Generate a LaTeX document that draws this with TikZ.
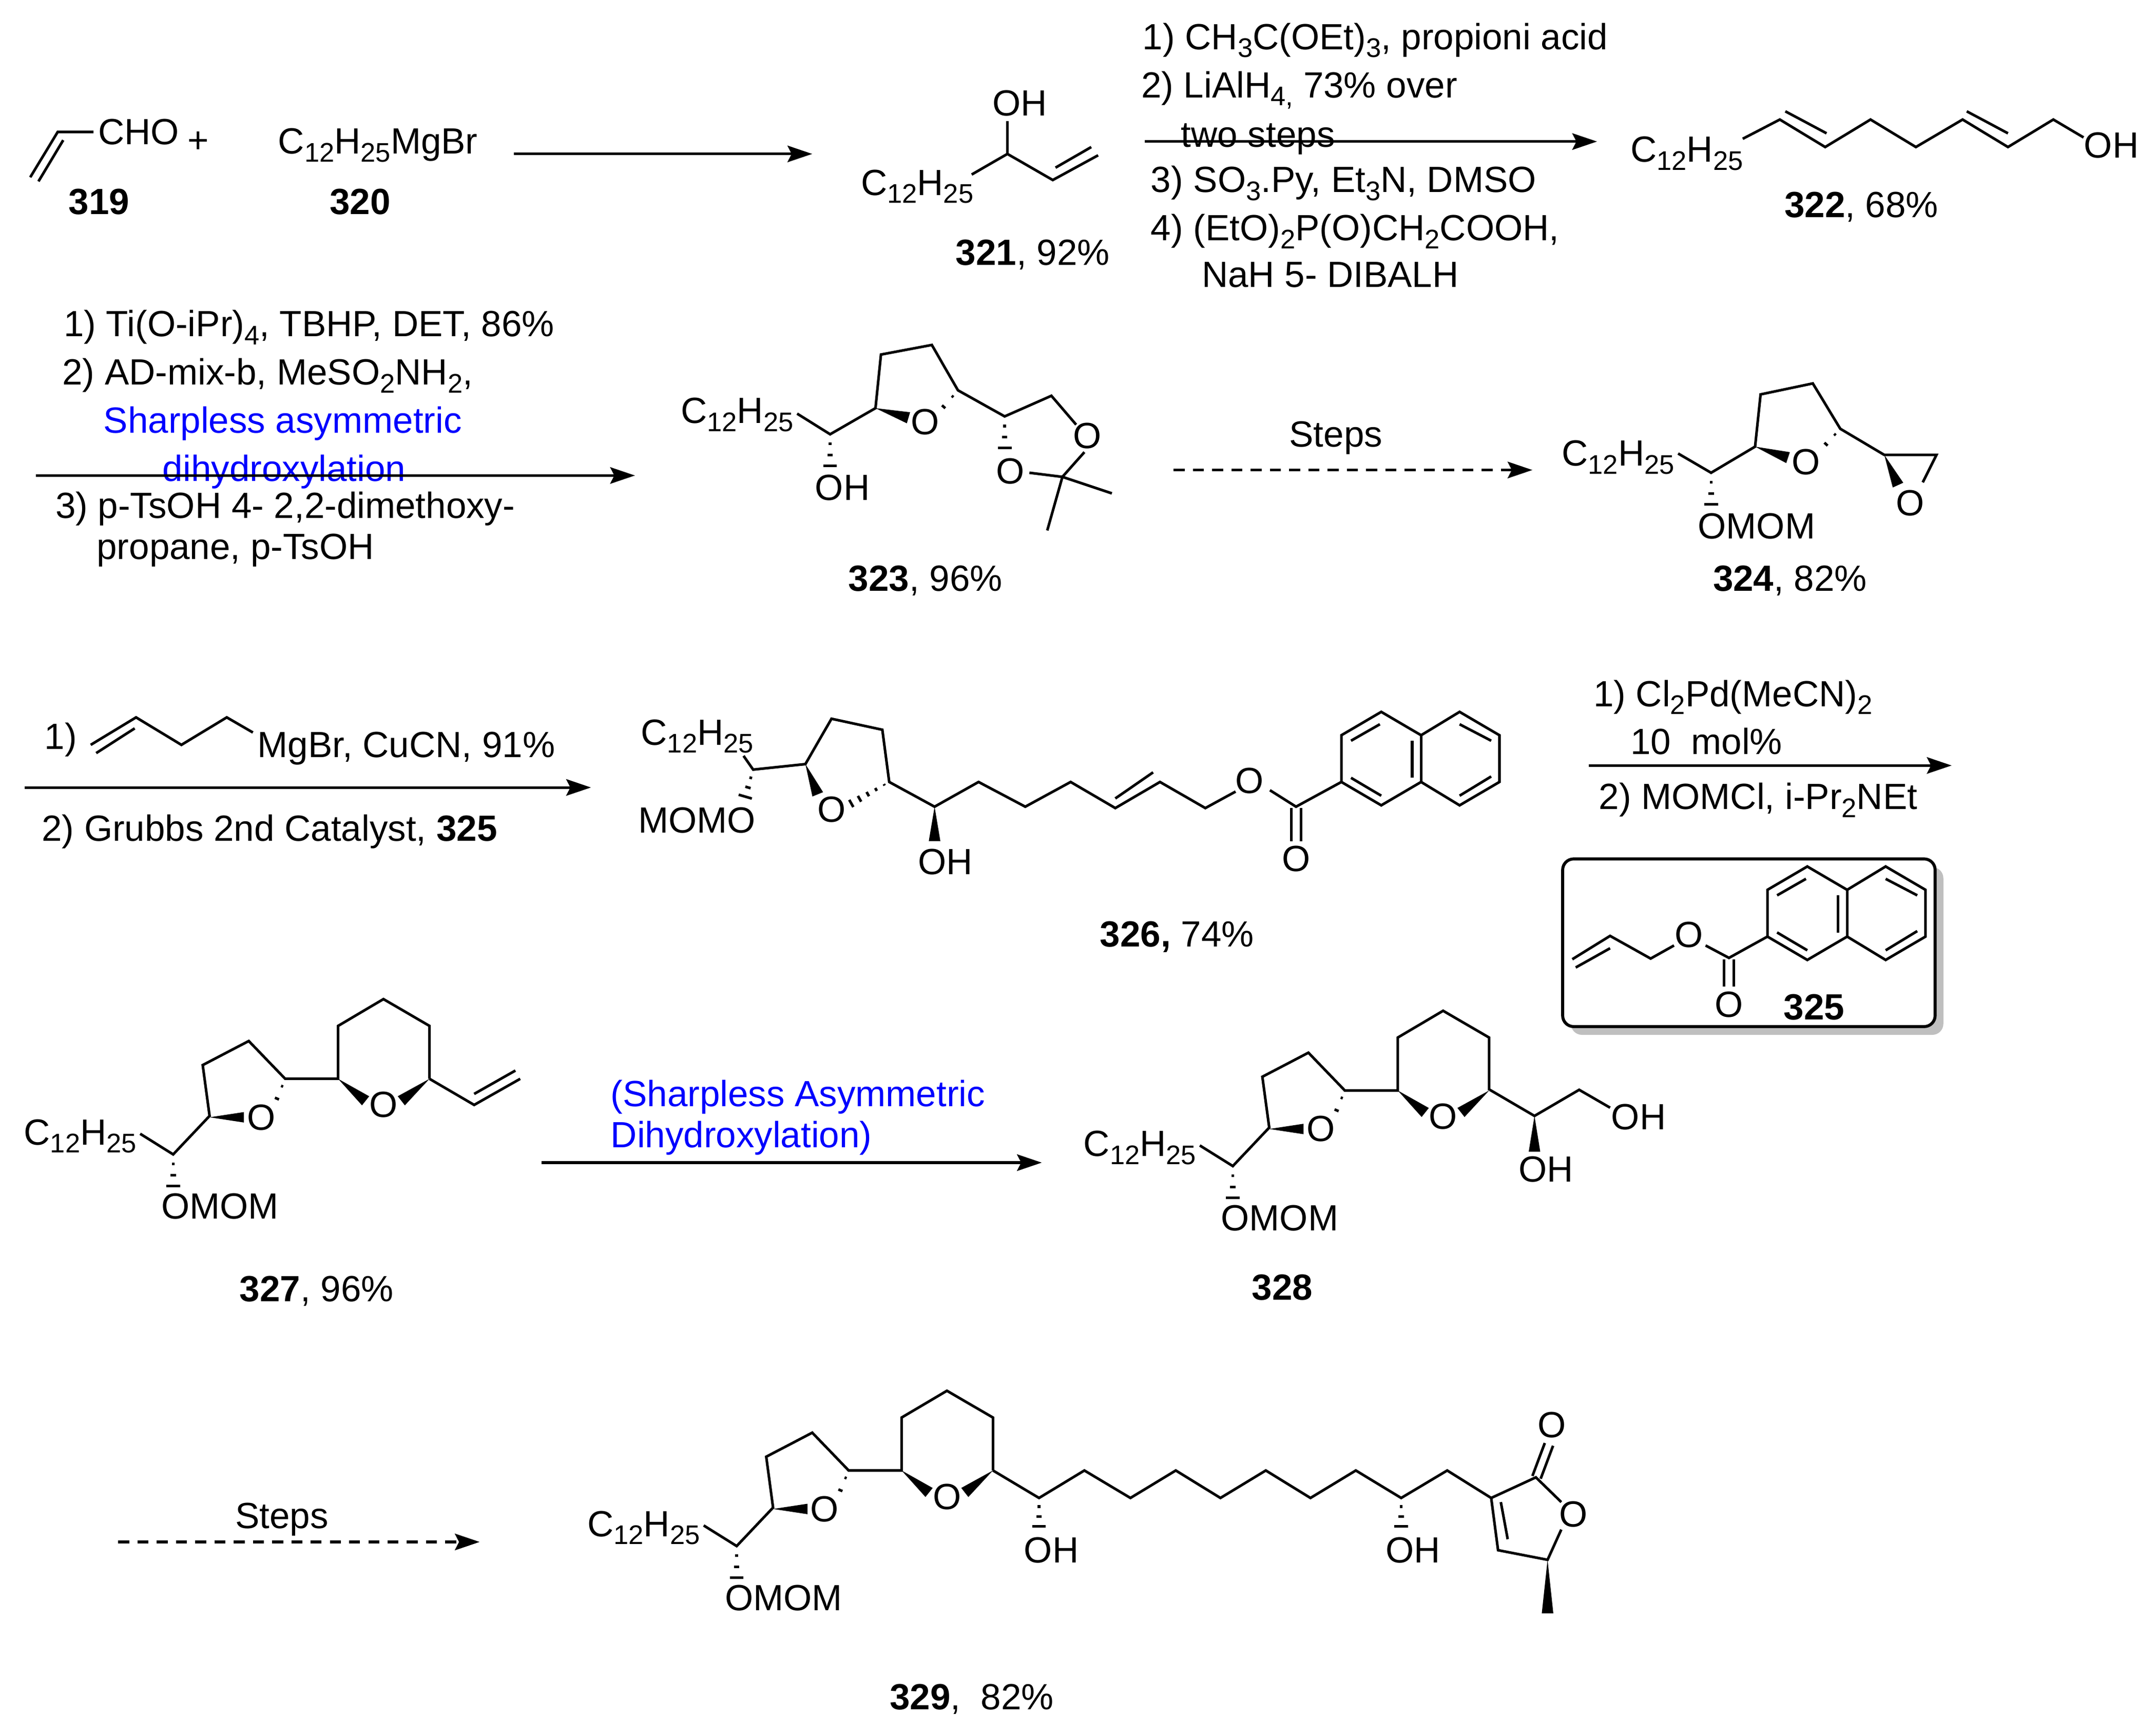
\documentclass[tikz,border=0pt]{standalone}
\usepackage{fontspec}
\setmainfont{Liberation Sans}
\usetikzlibrary{arrows.meta,calc}
\tikzset{>={Stealth[length=9pt,width=6pt,inset=1.5pt]}}
\tikzset{
	every node/.style={inner sep=0pt,font=\fontsize{13.25}{15}\selectfont},
	txt/.style={anchor=base west},
	lbl/.style={anchor=base},
	atom/.style={anchor=center},
	bond/.style={line width=0.95pt},
	rxn/.style={line width=0.95pt,->},
	rxndash/.style={line width=0.95pt,->,dash pattern=on 4pt off 3pt}
}
\newcommand{\lowr}[1]{\raisebox{-0.22em}{\fontsize{9.8}{10}\selectfont #1}}
\newcommand{\dodecyl}{C\lowr{12}H\lowr{25}}
\newcommand{\wedgeb}[3]{\fill ($#1$)--($#2!#3pt!90:#1$)--($#2!#3pt!-90:#1$)--cycle;}
\newcommand{\hashb}[3][0.25/0.5,0.54/1,0.82/2.5]{
	\foreach \t/\w in {#1}{
		\draw[bond] ($#2!\t!#3!\w pt!90:#3$)--($#2!\t!#3!\w pt!-90:#3$);
	}
}
\newcommand{\naphth}{
	\draw[bond](976,569)--(976,535)--(1005,518)--(1034,535)--(1062,518)--(1091,535)--(1091,569)--(1062,586)--(1034,569)--(1005,586)--cycle;
	\draw[bond](1034,535)--(1034,569);
	\draw[bond](983,539)--(1004,527);
	\draw[bond](983,566)--(1005,579);
	\draw[bond](1027.5,539)--(1027.5,566);
	\draw[bond](1062,527)--(1085,539);
	\draw[bond](1085,565)--(1062,579);
}
\newcommand{\thpcore}[1]{
	\node[txt] (#1ch) at (17,833) {\dodecyl};
	\node[txt] (#1om) at (117,887) {OMOM};
	\node[atom] (#1oa) at (190,813) {O};
	\node[atom] (#1ob) at (279,804) {O};
	\draw[bond](102,825)--(126,840)--(152.5,812)--(147.5,775)--(181,757.5)--(207.5,785)--(246,785)--(246,746.5)--(279,727)--(312.5,746.5)--(312.5,785);
	\wedgeb{(152.5,813)}{(177.5,813)}{1.9}
	\wedgeb{(246,785)}{(266,801)}{2.1}
	\wedgeb{(312.5,785)}{(292,801)}{2.1}
	\hashb{(126,840)}{(126,868)}
	\hashb[0.3/0.4,0.8/0.8]{(207.5,785)}{(200,803)}
}

\begin{document}
\begin{tikzpicture}[x=0.5pt,y=-0.5pt]
	\useasboundingbox (0,0) rectangle (1568,1263);

	\draw[bond](22,129)--(42,96)--(68,96);
	\draw[bond](28,132)--(46,102);
	\node[txt] (cho) at (71,105) {CHO};
	\node[txt] (plus) at (136,111) {+};
	\node[txt] (grig) at (202,112) {\dodecyl MgBr};
	\node[lbl] (n319) at (72,156) {\textbf{319}};
	\node[lbl] (n320) at (262,156) {\textbf{320}};
	\coordinate (a1s) at (374,112);
	\coordinate (a1e) at (591,112);
	\draw[rxn](a1s)--(a1e);

	\node[atom] (oh321) at (742,75) {OH};
	\node[txt] (ch321) at (626,142) {\dodecyl};
	\draw[bond](733,88)--(733,112);
	\draw[bond](707,127)--(733,112)--(766,131)--(799,113);
	\draw[bond](768,122)--(794,107);
	\node[txt] (n321) at (695,193) {\textbf{321}, 92\%};

	\node[txt] (r1a) at (831,36) {1) CH\lowr{3}C(OEt)\lowr{3}, propioni acid};
	\node[txt] (r1b) at (830,71) {2) LiAlH\lowr{4,} 73\% over};
	\node[txt] (r1c) at (859,107) {two steps};
	\node[txt] (r1d) at (837,140) {3) SO\lowr{3}.Py, Et\lowr{3}N, DMSO};
	\node[txt] (r1e) at (837,175) {4) (EtO)\lowr{2}P(O)CH\lowr{2}COOH,};
	\node[txt] (r1f) at (874,209) {NaH 5- DIBALH};
	\coordinate (a2s) at (833,103);
	\coordinate (a2e) at (1162,103);
	\draw[rxn](a2s)--(a2e);

	\node[txt] (ch322) at (1186,118) {\dodecyl};
	\node[txt] (oh322) at (1516,115) {OH};
	\draw[bond](1268,101)--(1295,87)--(1328,107)--(1361,87)--(1394,107)--(1428,87)--(1461,107)--(1494,87)--(1516,100);
	\draw[bond](1299,81)--(1329,97);
	\draw[bond](1431,81)--(1461,97);
	\node[txt] (n322) at (1298,158) {\textbf{322}, 68\%};

	\node[txt] (r2a) at (46,245) {1) Ti(O-iPr)\lowr{4}, TBHP, DET, 86\%};
	\node[txt] (r2b) at (45,280) {2) AD-mix-b, MeSO\lowr{2}NH\lowr{2},};
	\node[txt,text=blue] (r2c) at (75,315) {Sharpless asymmetric};
	\node[txt,text=blue] (r2d) at (118,350) {dihydroxylation};
	\node[txt] (r2e) at (40,377) {3) p-TsOH 4- 2,2-dimethoxy-};
	\node[txt] (r2f) at (70,407) {propane, p-TsOH};
	\coordinate (a3s) at (26,346);
	\coordinate (a3e) at (462,346);
	\draw[rxn](a3s)--(a3e);

	\node[txt] (ch323) at (495,308) {\dodecyl};
	\node[atom] (oh323) at (613,355) {OH};
	\node[atom] (oa323) at (673,307) {O};
	\node[atom] (ob323) at (791,317) {O};
	\node[atom] (oc323) at (735,343) {O};
	\draw[bond](580,301)--(604,316)--(637,297)--(641,258)--(678,251)--(697,284)--(731,303)--(765,288)--(783,309);
	\draw[bond](749,344)--(773,347)--(789,329);
	\draw[bond](762,386)--(773,347)--(809,359);
	\wedgeb{(637,297)}{(661,304)}{2.1}
	\hashb{(604,316)}{(604,344)}
	\hashb{(731,303)}{(731,331)}
	\hashb[0.3/0.4,0.8/0.8]{(697,284)}{(684,299)}
	\node[txt] (n323) at (617,430) {\textbf{323}, 96\%};

	\node[lbl] (st1) at (972,325) {Steps};
	\coordinate (a4s) at (854,342);
	\coordinate (a4e) at (1115,342);
	\draw[rxndash](a4s)--(a4e);

	\node[txt] (ch324) at (1136,339) {\dodecyl};
	\node[txt] (om324) at (1235,392) {OMOM};
	\node[atom] (oa324) at (1314,336) {O};
	\node[atom] (ob324) at (1390,366) {O};
	\draw[bond](1221,330)--(1245,344)--(1277,325)--(1281,287)--(1319,279)--(1339,312)--(1371,331)--(1409,331)--(1399,351);
	\wedgeb{(1277,325)}{(1301,333)}{2.1}
	\wedgeb{(1371,331)}{(1381,353)}{2.1}
	\hashb{(1245,344)}{(1245,372)}
	\hashb[0.3/0.4,0.8/0.8]{(1339,312)}{(1326,326)}
	\node[txt] (n324) at (1246,430) {\textbf{324}, 82\%};

	\node[txt] (r3a) at (32,545) {1)};
	\draw[bond](66,542)--(99,522)--(132,542)--(165,522)--(184,533);
	\draw[bond](70,548)--(98,530);
	\node[txt] (r3b) at (187,551) {MgBr, CuCN, 91\%};
	\node[txt] (r3c) at (30,612) {2) Grubbs 2nd Catalyst, \textbf{325}};
	\coordinate (a5s) at (18,573);
	\coordinate (a5e) at (430,573);
	\draw[rxn](a5s)--(a5e);

	\node[txt] (ch326) at (466,542) {\dodecyl};
	\node[txt] (om326) at (464,606) {MOMO};
	\node[atom] (oa326) at (605,589) {O};
	\node[atom] (oh326) at (688,627) {OH};
	\node[atom] (ob326) at (909,568) {O};
	\node[atom] (oc326) at (943,625) {O};
	\draw[bond](541,550)--(548,560)--(586,556)--(605,523)--(642,531)--(647,569)--(680,587)--(712,569)--(746,587)--(779,569)--(811.5,588)--(844,569)--(877,588)--(899,576);
	\draw[bond](811.5,581)--(839,562);
	\draw[bond](924,575)--(943,587)--(976,569);
	\draw[bond](939.5,588)--(939.5,612);
	\draw[bond](946.5,588)--(946.5,612);
	\wedgeb{(586,556)}{(595,578)}{2.1}
	\wedgeb{(680,587)}{(680,612)}{2.1}
	\hashb{(548,560)}{(541,584)}
	\hashb[0.12/0.3,0.32/0.6,0.52/0.9,0.72/1.2,0.92/1.5]{(647,569)}{(617,586)}
	\naphth
	\node[txt] (n326) at (800,689) {\textbf{326,} 74\%};

	\node[txt] (r4a) at (1159,514) {1) Cl\lowr{2}Pd(MeCN)\lowr{2}};
	\node[txt] (r4b) at (1186,549) {10\ \ mol\%};
	\node[txt] (r4c) at (1163,589) {2) MOMCl, i-Pr\lowr{2}NEt};
	\coordinate (a6s) at (1156,557);
	\coordinate (a6e) at (1420,557);
	\draw[rxn](a6s)--(a6e);

	\fill[black!25,rounded corners=4pt](1143,631) rectangle (1414,753);
	\draw[fill=white,line width=1.1pt,rounded corners=4pt](1137,625) rectangle (1408,747);
	\draw[bond](1144,698)--(1171.5,681)--(1201,697.5)--(1218,688);
	\draw[bond](1146.5,704)--(1171.5,690);
	\node[atom] (oa325) at (1229,680) {O};
	\node[atom] (ob325) at (1258,731) {O};
	\draw[bond](1241,688)--(1258,697)--(1286,681.5);
	\draw[bond](1254.5,698)--(1254.5,718);
	\draw[bond](1261.5,698)--(1261.5,718);
	\begin{scope}[shift={(310,112.5)}]
		\naphth
	\end{scope}
	\node[lbl] (n325) at (1320,742) {\textbf{325}};

	\thpcore{p}
	\draw[bond](312.5,785)--(345,804)--(378.5,785);
	\draw[bond](345,796)--(375,779);
	\node[txt] (n327) at (174,947) {\textbf{327}, 96\%};

	\node[txt,text=blue] (r5a) at (444,805) {(Sharpless Asymmetric};
	\node[txt,text=blue] (r5b) at (444,835) {Dihydroxylation)};
	\coordinate (a7s) at (394,846);
	\coordinate (a7e) at (758,846);
	\draw[rxn](a7s)--(a7e);

	\begin{scope}[shift={(771,8.5)}]
		\thpcore{q}
	\end{scope}
	\draw[bond](1084,793)--(1116.5,812)--(1149,793)--(1171.5,806);
	\node[txt] (oha328) at (1172,822) {OH};
	\node[atom] (ohb328) at (1125,851) {OH};
	\wedgeb{(1116.5,812)}{(1116.5,838)}{2.1}
	\node[lbl] (n328) at (933,946) {\textbf{328}};

	\node[lbl] (st2) at (205,1112) {Steps};
	\coordinate (a8s) at (86,1122);
	\coordinate (a8e) at (349,1122);
	\draw[rxndash](a8s)--(a8e);

	\begin{scope}[shift={(410,285)}]
		\thpcore{r}
	\end{scope}
	\draw[bond](722.5,1070)--(756,1090)--(789,1070)--(822.5,1090)--(855.5,1070)--(888,1090)--(921,1070)--(953.5,1090)--(986.5,1070)--(1019.5,1090)--(1053,1070)--(1085,1090)--(1117.5,1075)--(1136,1093);
	\draw[bond](1085,1090)--(1090,1128)--(1126,1135)--(1136,1113);
	\draw[bond](1092,1093)--(1097,1120);
	\draw[bond](1115,1074)--(1124,1050);
	\draw[bond](1121,1076)--(1130,1052);
	\node[atom] (oa329) at (1129,1037) {O};
	\node[atom] (ob329) at (1145,1102) {O};
	\node[atom] (oha329) at (765,1128) {OH};
	\node[atom] (ohb329) at (1028,1128) {OH};
	\hashb{(756,1090)}{(756,1115)}
	\hashb{(1019.5,1090)}{(1019.5,1115)}
	\wedgeb{(1126,1135)}{(1126,1174)}{2.1}
	\node[txt] (n329) at (647,1244) {\textbf{329},\ \ 82\%};
\end{tikzpicture}
\end{document}
